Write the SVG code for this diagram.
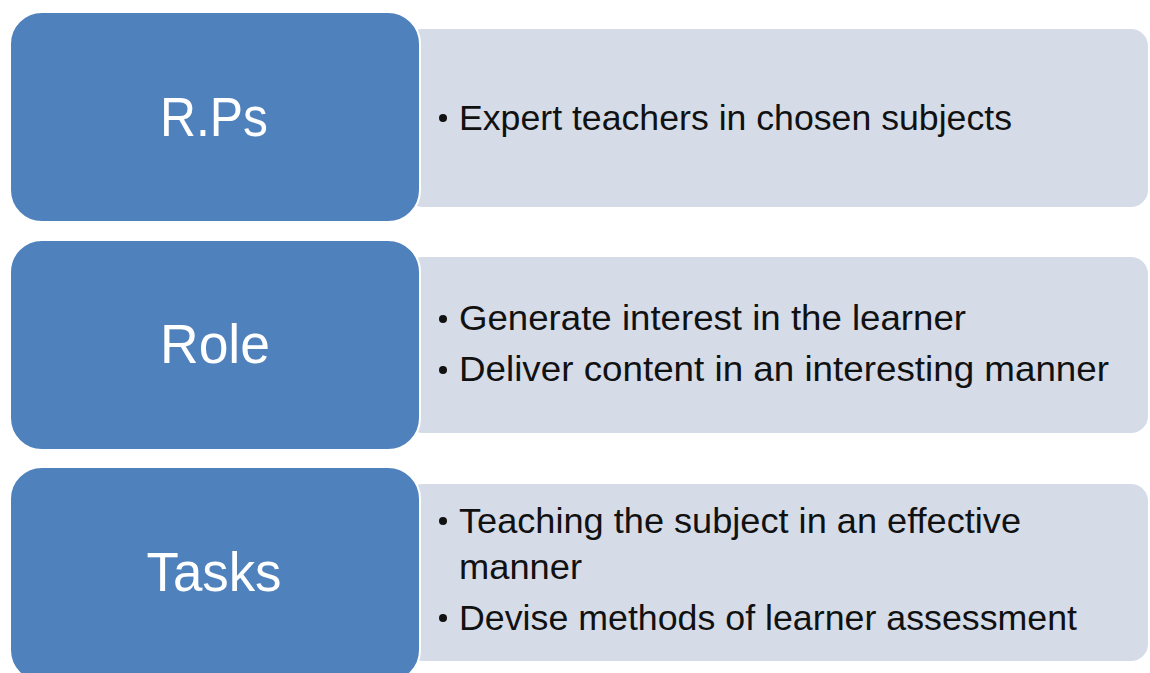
<svg xmlns="http://www.w3.org/2000/svg" width="1150" height="673" viewBox="0 0 1150 673">
<style>
.blue{fill:#4F81BD;stroke:#ffffff;stroke-width:2}
.light{fill:#D5DCE8;stroke:#ffffff;stroke-width:2}
.head{font-family:"Liberation Sans","Open Sans",sans-serif;font-size:56px;fill:#ffffff;text-anchor:middle}
.item{font-family:"Liberation Sans","Open Sans",sans-serif;font-size:35px;fill:#111111}
.dot{fill:#111111}
</style>
<rect width="1150" height="673" fill="#ffffff"/>
<g id="rps-detail">
<rect class="light" x="405" y="28" width="744" height="180" rx="18"/>
<circle class="dot" cx="443" cy="118" r="4"/>
<text class="item" x="459" y="130" textLength="553" lengthAdjust="spacingAndGlyphs">Expert teachers in chosen subjects</text>
</g>
<g id="rps">
<rect class="blue" x="10" y="12" width="410" height="210" rx="32"/>
<text class="head" x="214" y="136" textLength="108" lengthAdjust="spacingAndGlyphs">R.Ps</text>
</g>
<g id="role-detail">
<rect class="light" x="405" y="256" width="744" height="178" rx="18"/>
<circle class="dot" cx="443" cy="319" r="4"/>
<text class="item" x="459" y="330" textLength="507" lengthAdjust="spacingAndGlyphs">Generate interest in the learner</text>
<circle class="dot" cx="443" cy="370" r="4"/>
<text class="item" x="459" y="381" textLength="650" lengthAdjust="spacingAndGlyphs">Deliver content in an interesting manner</text>
</g>
<g id="role">
<rect class="blue" x="10" y="240" width="410" height="210" rx="32"/>
<text class="head" x="215" y="363" textLength="110" lengthAdjust="spacingAndGlyphs">Role</text>
</g>
<g id="tasks-detail">
<rect class="light" x="405" y="483" width="744" height="179" rx="18"/>
<circle class="dot" cx="443" cy="521" r="4"/>
<text class="item" x="459" y="533" textLength="562" lengthAdjust="spacingAndGlyphs">Teaching the subject in an effective</text>
<text class="item" x="459" y="579" textLength="123" lengthAdjust="spacingAndGlyphs">manner</text>
<circle class="dot" cx="443" cy="618" r="4"/>
<text class="item" x="459" y="630" textLength="618" lengthAdjust="spacingAndGlyphs">Devise methods of learner assessment</text>
</g>
<g id="tasks">
<rect class="blue" x="10" y="467" width="410" height="215" rx="32"/>
<text class="head" x="214" y="591" textLength="135" lengthAdjust="spacingAndGlyphs">Tasks</text>
</g>
<g id="connectors"></g>
</svg>
